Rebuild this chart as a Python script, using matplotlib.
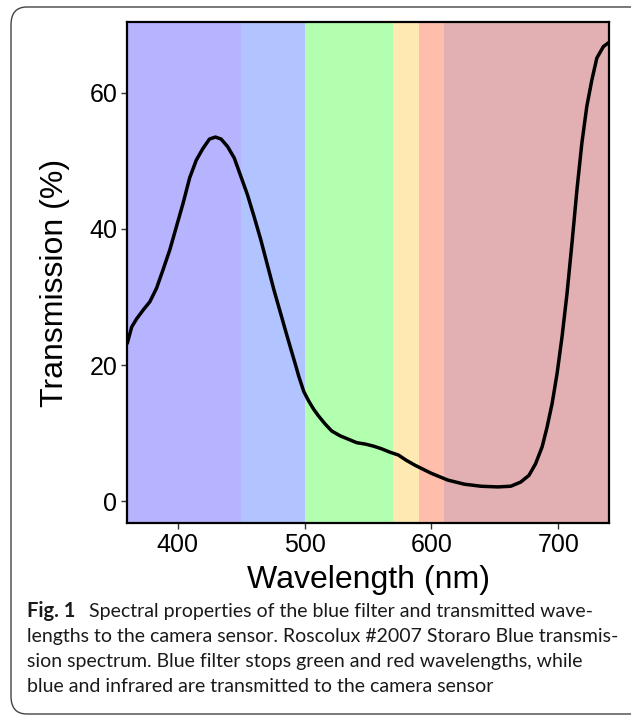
#Transmission spectrum of the blue filter with colour bands

import numpy as np
import matplotlib.pyplot as plt
from matplotlib.patches import FancyBboxPatch

#Data
wavelength = [360.2, 363.7, 367.6, 372.8, 378.0, 383.3, 388.4, 393.7, 398.9, 404.1,
              409.4, 414.6, 419.8, 425.0, 429.7, 434.2, 439.3, 444.6, 449.8, 455.0,
              460.2, 465.5, 470.7, 475.9, 481.1, 486.3, 492.9, 495.5, 499.4, 503.3,
              507.2, 511.1, 516.4, 521.5, 528.1, 534.6, 541.1, 547.7, 554.2, 560.7,
              567.3, 573.8, 580.3, 586.9, 593.4, 599.9, 606.4, 613.0, 619.5, 626.0,
              639.1, 652.1, 662.5, 670.3, 676.9, 682.1, 687.3, 691.2, 695.2, 699.1,
              703.0, 706.9, 710.8, 714.7, 718.6, 722.5, 726.5, 730.4, 735.6, 740]
transmission = [23.2, 25.6, 26.8, 28.1, 29.3, 31.3, 34.0, 36.9, 40.3, 43.7,
                 47.5, 50.1, 51.8, 53.2, 53.5, 53.2, 52.1, 50.4, 47.7, 45.0,
                 41.8, 38.4, 34.7, 31.0, 27.6, 24.2, 20.0, 18.3, 16.1, 14.7,
                 13.5, 12.5, 11.3, 10.3, 9.6, 9.1, 8.6, 8.4, 8.1, 7.7,
                 7.2, 6.8, 6.0, 5.3, 4.7, 4.1, 3.6, 3.1, 2.8, 2.5,
                 2.2, 2.1, 2.2, 2.8, 3.8, 5.5, 8.0, 10.9, 14.4, 18.8,
                 24.2, 30.5, 37.9, 45.7, 52.6, 58.0, 61.9, 65.1, 66.8, 67.4]

#Colour bands (start, end)
band_start = [360, 450, 500, 570, 590, 610]
band_end = [450, 500, 570, 590, 610, 740]
band_colors = ['#b6b3ff', '#b1c4ff', '#b3ffb0', '#ffe9b2', '#ffbeac', '#e2b0b2']

xticks = [400, 500, 600, 700]
yticks = [0, 20, 40, 60]

caption_lines = ['lengths to the camera sensor. Roscolux #2007 Storaro Blue transmis-',
                 'sion spectrum. Blue filter stops green and red wavelengths, while',
                 'blue and infrared are transmitted to the camera sensor']

plt.rcParams['font.family'] = ['Liberation Sans', 'DejaVu Sans']

fig = plt.figure(figsize=(6.31, 7.19), dpi=100)
ax = fig.add_axes([127/631, 1-523/719, (609-127)/631, (523-22)/719])

for s, e, c in zip(band_start, band_end, band_colors):
    ax.axvspan(s, e, color=c, lw=0, zorder=0)

ax.plot(wavelength, transmission, color='black', lw=2.5, zorder=3,
        solid_joinstyle='round', solid_capstyle='round')

ax.set_xlim(360, 740)
ax.set_ylim(-3.2, 70.4)
ax.set_xticks(xticks)
ax.set_yticks(yticks)
ax.tick_params(labelsize=18, length=4, width=1, color='#333333', pad=3, labelcolor='black')
for sp in ax.spines.values():
    sp.set_linewidth(1.6)
    sp.set_color('black')
ax.set_xlabel('Wavelength (nm)', fontsize=23, labelpad=6)
ax.set_ylabel('Transmission (%)', fontsize=23, labelpad=14, y=0.48)

#Rounded frame round the whole figure
frame = FancyBboxPatch((11/631, 5/719), 1.05, 1-12/719,
                       boxstyle='round,pad=0,rounding_size=0.025',
                       transform=fig.transFigure, fill=False, ec='#444444', lw=1.0)
fig.patches.append(frame)

#Caption
cap_font = ['Lato', 'DejaVu Sans']
fig.text(27/631, 1-617/719, 'Fig. 1', fontsize=14.5, fontweight='bold', family=cap_font,
         color='#1a1a1a', va='baseline')
fig.text(89/631, 1-617/719, 'Spectral properties of the blue filter and transmitted wave-',
         fontsize=14, family=cap_font, color='#1a1a1a', va='baseline')
for i, line in enumerate(caption_lines):
    fig.text(27/631, 1-(642+25*i)/719, line, fontsize=14, family=cap_font,
             color='#1a1a1a', va='baseline')

plt.savefig('out.png', dpi=100)
